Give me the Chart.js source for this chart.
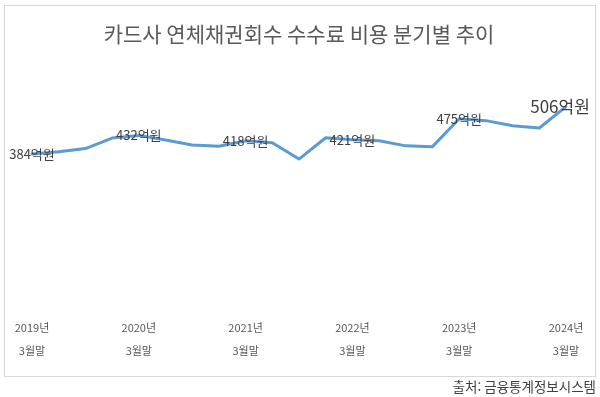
<!DOCTYPE html>
<html lang="ko">
<head>
<meta charset="utf-8">
<title>카드사 연체채권회수 수수료 비용 분기별 추이</title>
<script src="https://cdn.jsdelivr.net/npm/chart.js@4.4.1/dist/chart.umd.min.js"></script>
<style>
    html, body { margin: 0; padding: 0; background: #ffffff; }
    #wrap { width: 600px; height: 397px; position: relative; }
</style>
</head>
<body>
<div id="wrap"><canvas id="feeChart" width="600" height="397"></canvas></div>
<script>
// quarterly series, 2019 Q1 .. 2024 Q1 (unit: 억원)
const quarters = [
    '2019Q1', '2019Q2', '2019Q3', '2019Q4',
    '2020Q1', '2020Q2', '2020Q3', '2020Q4',
    '2021Q1', '2021Q2', '2021Q3', '2021Q4',
    '2022Q1', '2022Q2', '2022Q3', '2022Q4',
    '2023Q1', '2023Q2', '2023Q3', '2023Q4',
    '2024Q1'
];
const feeValues = [
    384, 390, 398, 425,
    432, 420, 407, 404,
    418, 413, 371, 426,
    421, 418, 405, 403,
    475, 470, 457, 451,
    506
];
// only the March-end quarters get an axis label and a value label
const tickLabels = {
    '2019Q1': ['2019년', '3월말'],
    '2020Q1': ['2020년', '3월말'],
    '2021Q1': ['2021년', '3월말'],
    '2022Q1': ['2022년', '3월말'],
    '2023Q1': ['2023년', '3월말'],
    '2024Q1': ['2024년', '3월말']
};
const valueLabelIdx = [0, 4, 8, 12, 16, 20];
const sourceText = '출처: 금융통계정보시스템';

const FONT = "'Noto Sans CJK KR', 'Noto Sans', sans-serif";

// light frame around the chart and the source note under it
const framePlugin = {
    id: 'frame',
    beforeDraw(chart) {
        const ctx = chart.ctx;
        ctx.save();
        ctx.strokeStyle = '#d9d9d9';
        ctx.lineWidth = 1;
        ctx.strokeRect(4.5, 5.5, 591, 371);
        ctx.restore();
    },
    afterDraw(chart) {
        const ctx = chart.ctx;
        ctx.save();
        ctx.font = `13.5px ${FONT}`;
        ctx.fillStyle = '#404040';
        ctx.textAlign = 'right';
        ctx.textBaseline = 'middle';
        ctx.fillText(sourceText, 596, 387);
        ctx.restore();
    }
};

// "NNN억원" labels centred on the March points
const valueLabelPlugin = {
    id: 'valueLabels',
    afterDatasetsDraw(chart) {
        const ctx = chart.ctx;
        const meta = chart.getDatasetMeta(0);
        const data = chart.data.datasets[0].data;
        ctx.save();
        ctx.fillStyle = '#404040';
        ctx.textAlign = 'center';
        ctx.textBaseline = 'middle';
        valueLabelIdx.forEach((i, n) => {
            const pt = meta.data[i];
            const last = n === valueLabelIdx.length - 1;
            ctx.font = `${last ? 17 : 13}px ${FONT}`;
            // the latest label sits a little left so it stays inside the frame
            ctx.fillText(data[i] + '억원', last ? pt.x - 6 : pt.x, pt.y);
        });
        ctx.restore();
    }
};

new Chart(document.getElementById('feeChart'), {
    type: 'line',
    data: {
        labels: quarters,
        datasets: [{
            data: feeValues,
            borderColor: '#5b9bd5',
            borderWidth: 3,
            pointRadius: 0,
            tension: 0,
            borderJoinStyle: 'round',
            borderCapStyle: 'round'
        }]
    },
    options: {
        responsive: false,
        animation: false,
        layout: { padding: { left: 32, right: 34, top: 0, bottom: 22 } },
        plugins: {
            legend: { display: false },
            tooltip: { enabled: false },
            title: {
                display: true,
                text: '카드사 연체채권회수 수수료 비용 분기별 추이',
                color: '#595959',
                font: { family: FONT, size: 21, weight: 'normal', lineHeight: 1.2 },
                padding: { top: 21, bottom: 24 }
            }
        },
        scales: {
            x: {
                offset: false,
                grid: { display: false, drawTicks: false },
                border: { display: false },
                ticks: {
                    autoSkip: false,
                    maxRotation: 0,
                    padding: 13,
                    color: '#595959',
                    font: { family: FONT, size: 11, lineHeight: 23 / 11 },
                    callback(value) {
                        const q = this.getLabelForValue(value);
                        return tickLabels[q] || '';
                    }
                }
            },
            y: {
                display: false,
                min: 0,
                max: 600
            }
        }
    },
    plugins: [framePlugin, valueLabelPlugin]
});
</script>
</body>
</html>
